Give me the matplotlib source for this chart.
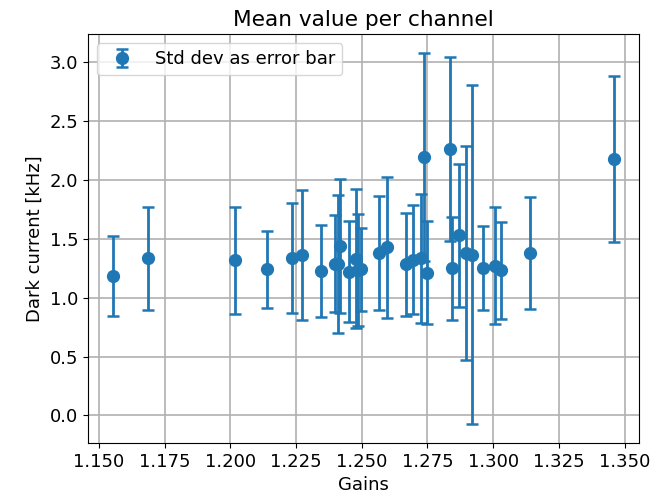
"""
Dark current per channel vs gain, mean with std dev error bars
"""
import matplotlib
matplotlib.use('Agg')
import matplotlib.pyplot as plt
import numpy as np

# Data
gains = [1.1553, 1.1688, 1.2018, 1.2138, 1.2235, 1.2271, 1.2345, 1.2398,
         1.2411, 1.2417, 1.2451, 1.2476, 1.2486, 1.2496, 1.2566, 1.2594,
         1.2668, 1.2695, 1.2727, 1.2737, 1.2749, 1.2835, 1.2844, 1.2870,
         1.2896, 1.2920, 1.2961, 1.3007, 1.3028, 1.3140, 1.3460]
mean_dark = [1.186, 1.336, 1.316, 1.240, 1.338, 1.364, 1.228, 1.290,
             1.284, 1.440, 1.222, 1.330, 1.237, 1.240, 1.380, 1.427,
             1.282, 1.322, 1.333, 2.196, 1.212, 2.264, 1.248, 1.529,
             1.380, 1.364, 1.251, 1.273, 1.231, 1.379, 2.179]
std_dark = [0.340, 0.437, 0.456, 0.330, 0.470, 0.553, 0.390, 0.410,
            0.584, 0.568, 0.426, 0.590, 0.475, 0.350, 0.486, 0.598,
            0.437, 0.462, 0.550, 0.885, 0.435, 0.783, 0.440, 0.610,
            0.910, 1.440, 0.355, 0.500, 0.410, 0.474, 0.705]

plt.rcParams['font.size'] = 13

fig = plt.figure(figsize=(6.65, 5.0), dpi=100)
ax = fig.add_axes([0.1323, 0.114, 0.961 - 0.1323, 0.932 - 0.114])

ax.errorbar(gains, mean_dark, yerr=std_dark, fmt='o', color='#1f77b4',
            markersize=8.5, elinewidth=2, capsize=4.5, capthick=1.8,
            label='Std dev as error bar')

ax.set_title('Mean value per channel')
ax.set_xlabel('Gains')
ax.set_ylabel('Dark current [kHz]')
ax.grid(True, color='#b0b0b0', linewidth=1.2)
ax.set_axisbelow(True)
ax.legend(loc='upper left')

fig.savefig('out.png', dpi=100)
plt.close(fig)
